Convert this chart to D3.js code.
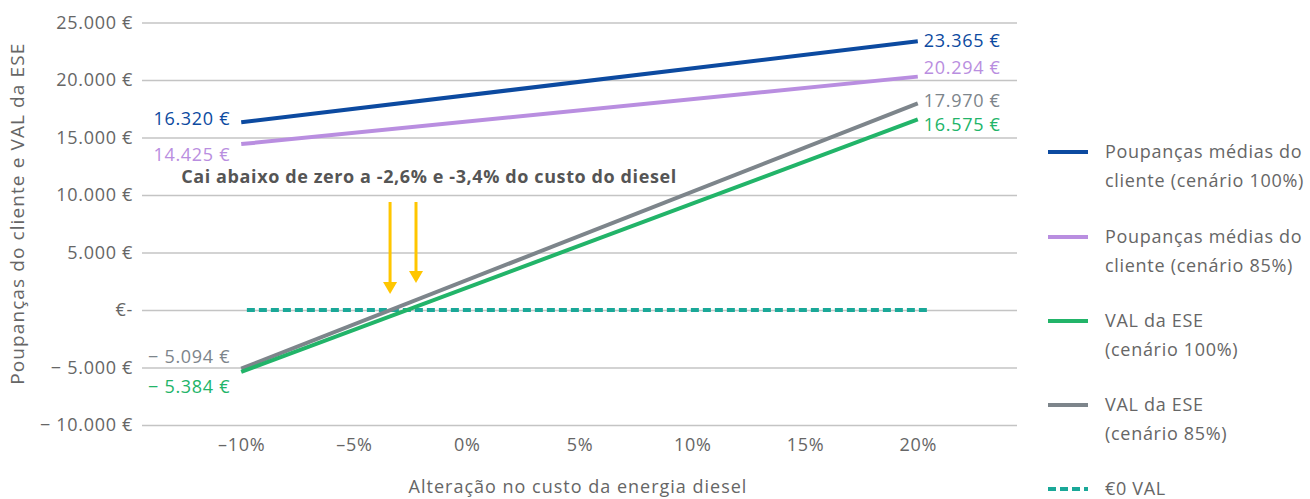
<!DOCTYPE html>
<html>
<head>
<meta charset="utf-8">
<script src="https://cdn.jsdelivr.net/npm/d3@7"></script>
<style>
  html, body { margin: 0; padding: 0; background: #fff; }
  svg { display: block; font-family: "Open Sans", "Noto Sans", sans-serif; letter-spacing: 0.7px; }
</style>
</head>
<body>
<svg id="chart" width="1310" height="499"></svg>
<script>
// Change in diesel energy cost (%) at the two ends of each line
const xPoints = [-10, 20];
const xTicks = [-10, -5, 0, 5, 10, 15, 20];
const yTicks = [25000, 20000, 15000, 10000, 5000, 0, -5000, -10000];

// Series values (€) at -10% and +20%
const savings100 = [16320, 23365];
const savings85 = [14425, 20294];
const npv100 = [-5384, 16575];
const npv85 = [-5094, 17970];
const zeroLine = [0, 0];
const zeroLineX = [-9.75, 20.5];

// Break-even markers (% change where NPV crosses zero)
const breakEvenX = [-3.4, -2.25];

const legendLines = [
  ["Poupanças médias do", "cliente (cenário 100%)"],
  ["Poupanças médias do", "cliente (cenário 85%)"],
  ["VAL da ESE", "(cenário 100%)"],
  ["VAL da ESE", "(cenário 85%)"],
  ["€0 VAL"]
];

const colors = {
  s100: "#0c4aa0",
  s85: "#b98ee0",
  n100: "#22b469",
  n85: "#7d858b",
  zero: "#1aa898",
  arrow: "#ffc600",
  grid: "#c4c4c4",
  text: "#666666",
  note: "#555555"
};

const svg = d3.select("#chart");

const x = d3.scaleLinear().domain([-14.4, 24.4]).range([142, 1017]);
const y = d3.scaleLinear().domain([-10000, 25000]).range([425, 22.5]);

const thousands = d3.formatLocale({ decimal: ",", thousands: ".", grouping: [3], currency: ["", " €"] }).format(",.0f");
const euro = v => v === 0 ? "€-" : (v < 0 ? "\u2212 " + thousands(-v) + " €" : thousands(v) + " €");
const pct = v => (v < 0 ? "\u2013" + (-v) : v) + "%";

// Y axis with horizontal gridlines
const yAxis = svg.append("g")
  .attr("transform", `translate(${x.range()[0]},0)`)
  .call(d3.axisLeft(y).tickValues(yTicks).tickFormat(euro)
    .tickSize(-(x.range()[1] - x.range()[0])).tickPadding(9));
yAxis.select(".domain").remove();
yAxis.selectAll(".tick line").attr("stroke", colors.grid).attr("stroke-width", 1.6);
yAxis.selectAll(".tick text")
  .attr("fill", colors.text).attr("font-size", 18)
  .attr("font-family", "'Open Sans', sans-serif");

// X axis labels (no line)
const xAxis = svg.append("g")
  .attr("transform", `translate(0,${y(-10000)})`)
  .call(d3.axisBottom(x).tickValues(xTicks).tickFormat(pct).tickSize(0).tickPadding(13));
xAxis.select(".domain").remove();
xAxis.selectAll(".tick text")
  .attr("fill", colors.text).attr("font-size", 18)
  .attr("font-family", "'Open Sans', sans-serif");

// Axis titles
svg.append("text")
  .attr("transform", `translate(24,${(y(25000) + y(-10000)) / 2 - 10}) rotate(-90)`)
  .attr("text-anchor", "middle")
  .attr("fill", colors.text).attr("font-size", 19).attr("letter-spacing", "1.1px")
  .text("Poupanças do cliente e VAL da ESE");

svg.append("text")
  .attr("x", 578).attr("y", 493)
  .attr("text-anchor", "middle")
  .attr("fill", colors.text).attr("font-size", 18).attr("letter-spacing", "1px")
  .text("Alteração no custo da energia diesel");

const line = d3.line().x(d => x(d[0])).y(d => y(d[1]));

// Zero NPV reference (dashed)
svg.append("path")
  .datum(zeroLineX.map((v, i) => [v, zeroLine[i]]))
  .attr("d", line)
  .attr("fill", "none").attr("stroke", colors.zero)
  .attr("stroke-width", 4).attr("stroke-dasharray", "8,4");

const series = [
  { key: "s100", values: savings100, color: colors.s100, dyStart: -4, dyEnd: -1 },
  { key: "s85", values: savings85, color: colors.s85, dyStart: 11, dyEnd: -9 },
  { key: "n85", values: npv85, color: colors.n85, dyStart: -12, dyEnd: -3 },
  { key: "n100", values: npv100, color: colors.n100, dyStart: 15, dyEnd: 5 }
];

series.forEach(s => {
  svg.append("path")
    .datum(xPoints.map((v, i) => [v, s.values[i]]))
    .attr("d", line)
    .attr("fill", "none").attr("stroke", s.color).attr("stroke-width", 4);

  svg.append("text")
    .attr("x", x(xPoints[0]) - 11).attr("y", y(s.values[0]) + s.dyStart)
    .attr("dy", "0.35em").attr("text-anchor", "end")
    .attr("fill", s.color).attr("font-size", 18)
    .text(euro(s.values[0]));

  svg.append("text")
    .attr("x", x(xPoints[1]) + 6).attr("y", y(s.values[1]) + s.dyEnd)
    .attr("dy", "0.35em").attr("text-anchor", "start")
    .attr("fill", s.color).attr("font-size", 18)
    .text(euro(s.values[1]));
});

// Annotation and arrows
svg.append("text")
  .attr("x", 429).attr("y", 177).attr("dy", "0.35em")
  .attr("text-anchor", "middle")
  .attr("fill", colors.note).attr("font-size", 18).attr("font-weight", 700)
  .attr("letter-spacing", "0.6px")
  .text("Cai abaixo de zero a -2,6% e -3,4% do custo do diesel");

const arrowTop = 202;
const arrowTipY = [294, 283];
breakEvenX.forEach((v, i) => {
  const ax = x(v);
  const tipY = arrowTipY[i];
  svg.append("line")
    .attr("x1", ax).attr("x2", ax).attr("y1", arrowTop).attr("y2", tipY - 10)
    .attr("stroke", colors.arrow).attr("stroke-width", 3);
  svg.append("path")
    .attr("d", `M${ax - 7},${tipY - 12} L${ax + 7},${tipY - 12} L${ax},${tipY} Z`)
    .attr("fill", colors.arrow);
});

// Legend
const legendKeys = ["s100", "s85", "n100", "n85", "zero"];
const legendY = [152, 237, 321, 405, 489];
legendKeys.forEach((k, i) => {
  const g = svg.append("g").attr("transform", `translate(1048,${legendY[i]})`);
  g.append("line")
    .attr("x1", 0).attr("x2", 40).attr("y1", 0).attr("y2", 0)
    .attr("stroke", colors[k]).attr("stroke-width", 4)
    .attr("stroke-dasharray", k === "zero" ? "8,4" : null);
  g.append("text")
    .attr("x", 57).attr("y", 0)
    .attr("fill", colors.text).attr("font-size", 18)
    .selectAll("tspan").data(legendLines[i]).join("tspan")
    .attr("x", 57).attr("dy", (d, j) => j === 0 ? "0.35em" : 29)
    .text(d => d);
});
</script>
</body>
</html>
